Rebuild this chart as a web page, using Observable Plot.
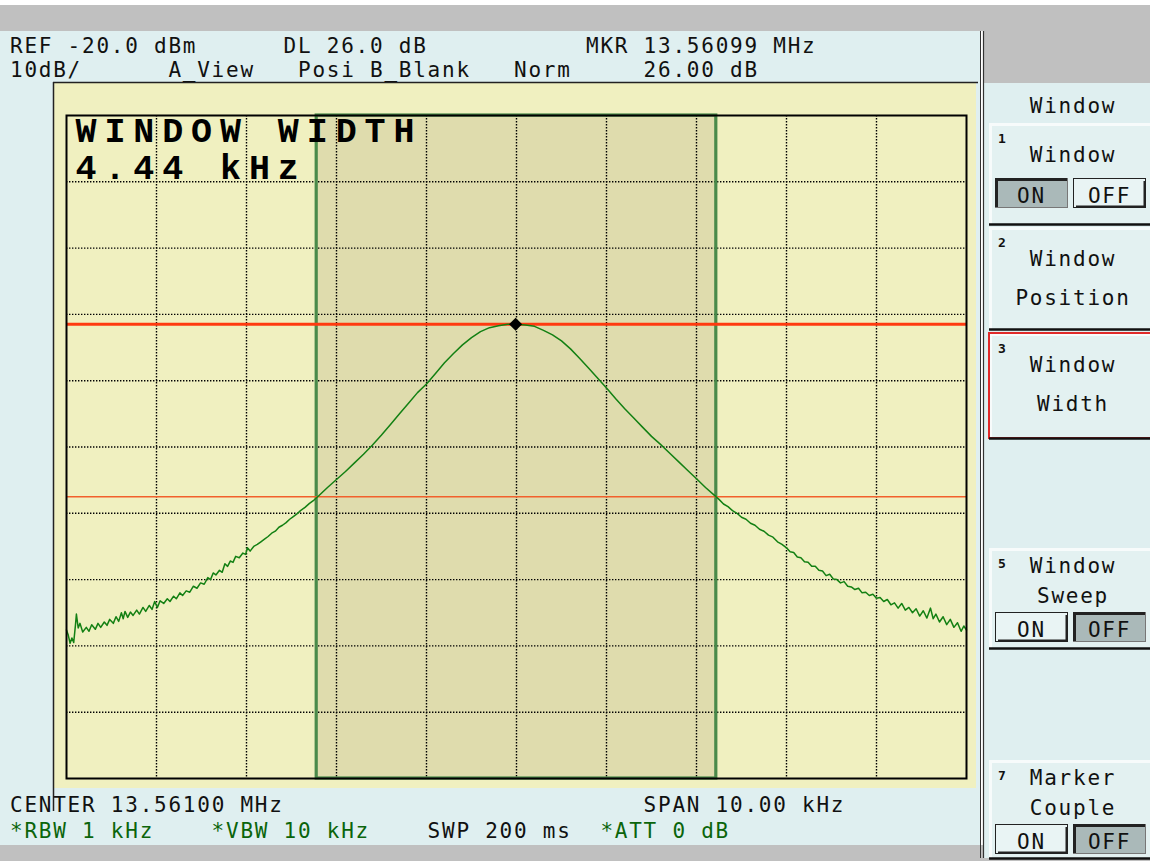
<!DOCTYPE html>
<html>
<head>
<meta charset="utf-8">
<script src="https://cdn.jsdelivr.net/npm/d3@7"></script>
<script src="https://cdn.jsdelivr.net/npm/@observablehq/plot@0.6"></script>
<style>
  html, body { margin: 0; padding: 0; background: #fff; }
  #chart { width: 1150px; height: 861px; }
</style>
</head>
<body>
<div id="chart"></div>
<script>
// ---------------- data ----------------
// frequency offset from centre (kHz) and level (dBm)
const traceLeftTail = [
  [-5.00,-97.6],[-4.98,-98.4],[-4.96,-99.6],[-4.94,-98.8],[-4.92,-99.5],[-4.90,-96.8],[-4.89,-95.2],[-4.87,-97.3],
  [-4.85,-96.6],[-4.82,-97.9],[-4.78,-97.2],[-4.75,-97.8],[-4.72,-96.8],[-4.68,-97.5],[-4.65,-96.6],[-4.62,-97.2],
  [-4.58,-96.4],[-4.55,-96.9],[-4.52,-96.0],[-4.48,-96.6],[-4.45,-95.6],[-4.42,-96.3],[-4.39,-95.0],[-4.37,-95.9],
  [-4.35,-94.8],[-4.32,-95.7],[-4.29,-94.9],[-4.26,-95.4],[-4.22,-94.6],[-4.19,-95.2],[-4.15,-94.2],[-4.12,-94.8],
  [-4.08,-93.9],[-4.05,-94.5],[-4.02,-93.3],[-3.99,-94.2],[-3.96,-93.2],[-3.92,-93.6],[-3.88,-92.9],[-3.85,-93.3],
  [-3.81,-92.5],[-3.78,-92.9],[-3.74,-92.0],[-3.71,-92.4],[-3.67,-91.7],[-3.63,-91.9],[-3.59,-91.0],[-3.55,-91.3],
  [-3.51,-90.5],[-3.47,-90.7],[-3.43,-89.7],[-3.40,-90.0],[-3.37,-89.0],[-3.34,-89.3],[-3.30,-88.6],[-3.27,-88.9],
  [-3.24,-87.6],[-3.21,-88.0],[-3.18,-87.2],[-3.15,-87.4],[-3.12,-86.5],[-3.08,-86.7],[-3.04,-86.0],[-3.01,-86.2],
  [-2.99,-85.2],[-2.96,-85.7],[-2.92,-85.0],[-2.88,-84.7],[-2.84,-84.3],[-2.80,-83.9],[-2.76,-83.5],[-2.72,-83.0],
  [-2.68,-82.7],[-2.64,-82.1],[-2.60,-81.8],[-2.56,-81.4],[-2.52,-80.9],[-2.48,-80.5],[-2.44,-80.1],[-2.40,-79.6],
  [-2.35,-79.1],[-2.30,-78.5],[-2.25,-78.0]
];
const traceCentre = [
  [-2.2,-77.4],[-2.1,-76.1],[-2.0,-74.9],[-1.9,-73.7],[-1.8,-72.4],[-1.7,-71.1],[-1.6,-69.7],[-1.5,-68.2],
  [-1.4,-66.6],[-1.3,-65.0],[-1.2,-63.4],[-1.1,-61.8],[-1.0,-60.5],[-0.9,-58.9],[-0.8,-57.3],[-0.7,-55.9],
  [-0.6,-54.6],[-0.5,-53.5],[-0.4,-52.6],[-0.3,-52.0],[-0.2,-51.7],[-0.1,-51.5],[0.0,-51.5],[0.1,-51.6],
  [0.2,-51.8],[0.3,-52.4],[0.4,-53.1],[0.5,-54.0],[0.6,-55.2],[0.7,-56.6],[0.8,-58.1],[0.9,-59.6],
  [1.0,-61.1],[1.1,-62.7],[1.2,-64.2],[1.3,-65.6],[1.4,-67.0],[1.5,-68.4],[1.6,-69.6],[1.7,-70.9],
  [1.8,-72.2],[1.9,-73.5],[2.0,-74.8],[2.1,-76.1],[2.2,-77.3]
];
const traceRightTail = [
  [2.25,-77.9],[2.30,-78.6],[2.35,-79.0],[2.40,-79.6],[2.45,-80.0],[2.50,-80.6],[2.55,-80.9],[2.60,-81.5],
  [2.65,-81.8],[2.70,-82.4],[2.75,-82.7],[2.80,-83.3],[2.85,-83.6],[2.90,-84.3],[2.95,-84.7],[3.00,-85.2],
  [3.04,-85.8],[3.08,-85.9],[3.12,-86.6],[3.16,-86.7],[3.20,-87.3],[3.24,-87.4],[3.28,-88.0],[3.32,-88.0],
  [3.36,-88.6],[3.40,-88.7],[3.44,-89.4],[3.48,-89.2],[3.52,-89.9],[3.56,-90.0],[3.60,-90.5],[3.64,-90.3],
  [3.68,-91.0],[3.72,-91.1],[3.76,-91.5],[3.80,-91.3],[3.84,-92.0],[3.88,-91.9],[3.92,-92.4],[3.96,-92.2],
  [4.00,-92.8],[4.04,-92.7],[4.08,-93.3],[4.12,-93.0],[4.16,-93.8],[4.20,-93.5],[4.24,-94.3],[4.28,-93.6],
  [4.32,-94.6],[4.36,-94.2],[4.40,-95.0],[4.44,-94.4],[4.48,-95.5],[4.52,-94.7],[4.56,-95.8],[4.60,-94.3],
  [4.63,-95.9],[4.66,-95.2],[4.70,-96.4],[4.74,-95.6],[4.78,-96.8],[4.82,-96.0],[4.86,-97.2],[4.90,-96.5],
  [4.94,-97.8],[4.97,-97.0],[5.00,-97.6]
];

const spanKHz = [-5, 5];             // CENTER ± SPAN/2
const levelRange = [-120, -20];      // REF -20 dBm, 10 dB/div
const gridFreqs = [-4, -3, -2, -1, 0, 1, 2, 3, 4];
const gridLevels = [-30, -40, -50, -60, -70, -80, -90, -100, -110];
const windowEdges = [-2.22, 2.22];   // window width 4.44 kHz
const markerPoint = [-0.01, -51.5];  // MKR 13.56099 MHz
const displayLine = [-77.5];         // DL 26.0 dB below marker
const markerLine = [-51.5];
const windowLabel1 = "WINDOW WIDTH";
const windowLabel2 = "4.44 kHz";

// header / footer texts: [column, text, colour]
const headerLine1 = [[0, "REF -20.0 dBm"], [19, "DL 26.0 dB"], [40, "MKR 13.56099 MHz"]];
const headerLine2 = [[0, "10dB/"], [11, "A_View"], [20, "Posi"], [25, "B_Blank"], [35, "Norm"], [44, "26.00 dB"]];
const footerLine1 = [[0, "CENTER 13.56100 MHz"], [44, "SPAN 10.00 kHz"]];
const footerLine2 = [[0, "*RBW 1 kHz", "g"], [14, "*VBW 10 kHz", "g"], [29, "SWP 200 ms", "k"], [41, "*ATT 0 dB", "g"]];

// soft keys
const menuTitle = "Window";
const softKeys = [
  {n: "1", lines: ["Window"], y0: 123, y1: 224, toggle: "on"},
  {n: "2", lines: ["Window", "Position"], y0: 227, y1: 329},
  {n: "3", lines: ["Window", "Width"], y0: 333, y1: 438, selected: true},
  {n: "5", lines: ["Window", "Sweep"], y0: 548, y1: 648, toggle: "off", inline: true},
  {n: "7", lines: ["Marker", "Couple"], y0: 760, y1: 858, toggle: "off", inline: true}
];

// ---------------- chart ----------------
const trace = [...traceLeftTail, ...traceCentre, ...traceRightTail];
const dots = {stroke: "#000", strokeWidth: 1.4, strokeDasharray: "1.4,1.6"};
const labelStyle = {
  frameAnchor: "top-left", textAnchor: "start", lineAnchor: "top",
  dx: 9, fontSize: 35, fontWeight: "bold", fontFamily: "Liberation Mono", fill: "#000"
};

const svg = Plot.plot({
  width: 1150,
  height: 861,
  marginLeft: 66,
  marginRight: 184,
  marginTop: 115,
  marginBottom: 83,
  x: {domain: spanKHz, axis: null},
  y: {domain: levelRange, axis: null},
  style: {background: "transparent", overflow: "visible"},
  marks: [
    Plot.rect([windowEdges], {x1: d => d[0], x2: d => d[1], y1: levelRange[0], y2: levelRange[1], fill: "#dfdcad"}),
    Plot.ruleX(gridFreqs, dots),
    Plot.ruleY(gridLevels, dots),
    Plot.rect([windowEdges], {x1: d => d[0], x2: d => d[1], y1: levelRange[0], y2: levelRange[1], fill: "none", stroke: "#4a8a4a", strokeWidth: 3.2}),
    Plot.ruleY(displayLine, {stroke: "#f2602c", strokeWidth: 1.6}),
    Plot.ruleY(markerLine, {stroke: "#ff3a10", strokeWidth: 3}),
    Plot.line(trace, {x: d => d[0], y: d => d[1], stroke: "#138013", strokeWidth: 1.5, curve: "linear"}),
    Plot.frame({stroke: "#000", strokeWidth: 2}),
    Plot.dot([markerPoint], {x: d => d[0], y: d => d[1], symbol: "square", r: 5.2, rotate: 45, fill: "#000"}),
    Plot.text([windowLabel1], {text: d => d, dy: 2, ...labelStyle}),
    Plot.text([windowLabel2], {text: d => d, dy: 39, ...labelStyle})
  ]
});

const s = d3.select(svg);
s.selectAll("g[aria-label='text'] text").style("letter-spacing", "7.9px");

// ---------------- screen chrome (behind plot) ----------------
const bg = s.insert("g", ":first-child");
const rect = (g, x, y, w, h, fill) => g.append("rect").attr("x", x).attr("y", y).attr("width", w).attr("height", h).attr("fill", fill);
const line = (g, x1, y1, x2, y2, stroke, w) => g.append("line").attr("x1", x1).attr("y1", y1).attr("x2", x2).attr("y2", y2).attr("stroke", stroke).attr("stroke-width", w);
const CYAN = "#dfeff0", GRAY = "#c0c0c0";
rect(bg, 0, 0, 1150, 861, "#fff");
rect(bg, 0, 5, 1150, 26, GRAY);
rect(bg, 983, 5, 167, 78, GRAY);
rect(bg, 0, 31, 981, 814, CYAN);
rect(bg, 0, 845, 984, 16, GRAY);
rect(bg, 984, 83, 166, 775, CYAN);
rect(bg, 984, 858, 166, 3, GRAY);
rect(bg, 54, 83, 922, 705, "#f0f0c0");
line(bg, 53.5, 82, 53.5, 811, "#222", 1.5);
line(bg, 53, 82.5, 978, 82.5, "#222", 1.5);
line(bg, 980.5, 31, 980.5, 858, "#333", 1);
line(bg, 983.5, 31, 983.5, 858, "#333", 1.2);

// ---------------- foreground text & soft keys ----------------
const fg = s.append("g");
const FONT = "DejaVu Sans Mono";
const col = c => 10 + c * 14.4;
function txt(g, x, y, t, opts = {}) {
  return g.append("text").attr("x", x).attr("y", y).text(t)
    .attr("font-family", FONT).attr("font-size", opts.size || 21)
    .attr("letter-spacing", opts.ls != null ? opts.ls : 1.76)
    .attr("text-anchor", opts.anchor || "start")
    .attr("font-weight", opts.weight || "normal")
    .attr("fill", opts.fill || "#111");
}
const GREEN = "#0b650b";
headerLine1.forEach(([c, t]) => txt(fg, col(c), 53, t));
headerLine2.forEach(([c, t]) => txt(fg, col(c), 77, t));
footerLine1.forEach(([c, t]) => txt(fg, col(c), 812, t));
footerLine2.forEach(([c, t, k]) => txt(fg, col(c), 838, t, {fill: k === "g" ? GREEN : "#111"}));

txt(fg, 1073, 113, menuTitle, {anchor: "middle"});

function button(g, x, y, w, h, label, pressed) {
  if (pressed) {
    rect(g, x, y, w, h, "#aab9b9");
    line(g, x, y + 1.5, x + w, y + 1.5, "#222", 3);
    line(g, x + 1.5, y, x + 1.5, y + h, "#222", 3);
    line(g, x, y + h - 0.5, x + w, y + h - 0.5, "#777", 1);
    line(g, x + w - 0.5, y, x + w - 0.5, y + h, "#777", 1);
  } else {
    rect(g, x, y, w, h, "#e9f4f4");
    g.append("rect").attr("x", x + 0.5).attr("y", y + 0.5).attr("width", w - 1).attr("height", h - 1)
      .attr("fill", "none").attr("stroke", "#222").attr("stroke-width", 1);
    line(g, x + 3, y + h - 1.5, x + w, y + h - 1.5, "#222", 2);
    line(g, x + w - 1.5, y + 3, x + w - 1.5, y + h, "#222", 2);
  }
  txt(g, x + w / 2, y + 25, label, {anchor: "middle"});
}

softKeys.forEach(k => {
  const g = fg.append("g");
  rect(g, 989, k.y0, 161, k.y1 - k.y0, "#e3f1f1");
  line(g, 989, k.y0 + 1.5, 1150, k.y0 + 1.5, "#f7fbfb", 3);
  line(g, 990.5, k.y0, 990.5, k.y1, "#f7fbfb", 3);
  if (k.selected) {
    g.append("rect").attr("x", 989).attr("y", k.y0).attr("width", 163).attr("height", k.y1 - k.y0)
      .attr("fill", "none").attr("stroke", "#e02a2a").attr("stroke-width", 2);
  }
  line(g, 989, k.y1 + 0.5, 1150, k.y1 + 0.5, "#111", 2.5);
  if (k.inline) {
    txt(g, 998, k.y0 + 20, k.n, {size: 13, weight: "bold", ls: 0});
    txt(g, 1073, k.y0 + 25, k.lines[0], {anchor: "middle"});
    txt(g, 1073, k.y0 + 55, k.lines[1], {anchor: "middle"});
    if (k.toggle) {
      button(g, 995, k.y0 + 64, 73, 30, "ON", k.toggle === "on");
      button(g, 1073, k.y0 + 64, 73, 30, "OFF", k.toggle === "off");
    }
  } else {
    txt(g, 998, k.y0 + 20, k.n, {size: 13, weight: "bold", ls: 0});
    txt(g, 1073, k.y0 + 39, k.lines[0], {anchor: "middle"});
    if (k.lines[1]) txt(g, 1073, k.y0 + 78, k.lines[1], {anchor: "middle"});
    if (k.toggle) {
      button(g, 995, k.y0 + 55, 73, 30, "ON", k.toggle === "on");
      button(g, 1073, k.y0 + 55, 73, 30, "OFF", k.toggle === "off");
    }
  }
});

document.getElementById("chart").appendChild(svg);
</script>
</body>
</html>
